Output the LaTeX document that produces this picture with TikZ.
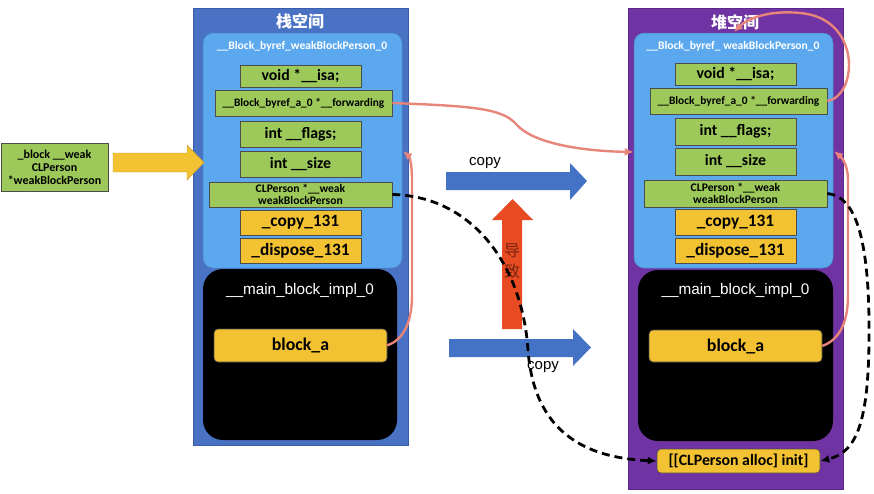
\documentclass[tikz,border=0pt]{standalone}
\usepackage{fontspec}
\setmainfont{Carlito}
\newfontfamily\cjk{Noto Sans CJK SC}
\newfontfamily\lib{Liberation Sans}
\usetikzlibrary{arrows.meta}
\definecolor{stackblue}{HTML}{4A72C4}
\definecolor{stackedge}{HTML}{3A5DA8}
\definecolor{heappurple}{HTML}{6F33A3}
\definecolor{heapedge}{HTML}{5A2888}
\definecolor{innerblue}{HTML}{5BA8EE}
\definecolor{boxgreen}{HTML}{9CC95A}
\definecolor{boxyellow}{HTML}{F2C233}
\definecolor{arrowblue}{HTML}{4472C4}
\definecolor{arrowred}{HTML}{E84B22}
\definecolor{textred}{HTML}{7A2510}
\definecolor{linkpink}{HTML}{E8857A}
\begin{document}
\begin{tikzpicture}[x=1pt,y=-1pt,
  panel/.style={rectangle, inner sep=0pt, line width=0.8pt},
  innerpanel/.style={rectangle, rounded corners=10pt, fill=innerblue, draw=innerblue!80!black, line width=0.5pt, inner sep=0pt},
  blackpanel/.style={rectangle, rounded corners=20pt, fill=black, inner sep=0pt},
  gbox/.style={rectangle, draw=black!70, line width=0.6pt, fill=boxgreen, inner sep=0pt, align=center, font=\bfseries},
  ybox/.style={rectangle, draw=black!70, line width=0.6pt, fill=boxyellow, inner sep=0pt, align=center, font=\bfseries},
  rybox/.style={ybox, rounded corners=4pt},
  pinkarrow/.style={draw=linkpink, line width=2.4pt, -{Latex[length=9pt,width=8pt]}},
  dasharrow/.style={draw=black, line width=2.8pt, dash pattern=on 8pt off 5pt, -{Latex[length=9pt,width=8pt]}},
]
\useasboundingbox (0,0) rectangle (874,493);

% ---------------- stack panel ----------------
\node[panel, fill=stackblue, draw=stackedge, minimum width=215pt, minimum height=437pt] (sout) at (300.5,226.5) {};
\node[text=white, font=\cjk\bfseries\fontsize{16}{16}\selectfont] (stitle) at (300,21) {栈空间};
\node[innerpanel, minimum width=199pt, minimum height=235pt] (sin) at (302.5,150.5) {};
\node[text=white, font=\bfseries\fontsize{11.6}{11.6}\selectfont] (sintitle) at (302,46) {\_\_Block\_byref\_weakBlockPerson\_0};
\node[gbox, minimum width=121pt, minimum height=22pt, font=\bfseries\fontsize{15.8}{16}\selectfont] (sisa) at (300.5,76) {void *\_\_isa;};
\node[gbox, minimum width=177pt, minimum height=26pt, font=\bfseries\fontsize{11.4}{12}\selectfont] (sfwd) at (303.5,103) {\_\_Block\_byref\_a\_0 *\_\_forwarding};
\node[gbox, minimum width=121pt, minimum height=26pt, font=\bfseries\fontsize{15.8}{16}\selectfont] (sflags) at (300.5,134) {int \_\_flags;};
\node[gbox, minimum width=121pt, minimum height=26pt, font=\bfseries\fontsize{15.8}{16}\selectfont] (ssize) at (300.5,164) {int \_\_size};
\node[gbox, minimum width=183pt, minimum height=25pt, font=\bfseries\fontsize{11.6}{12}\selectfont] (sclp) at (300.5,194.5) {CLPerson *\_\_weak\\weakBlockPerson};
\node[ybox, minimum width=121pt, minimum height=25pt, font=\bfseries\fontsize{17.3}{17}\selectfont] (scopy) at (300.5,222.5) {\_copy\_131};
\node[ybox, minimum width=121pt, minimum height=25pt, font=\bfseries\fontsize{17.3}{17}\selectfont] (sdisp) at (300.5,250.5) {\_dispose\_131};
\node[blackpanel, minimum width=194pt, minimum height=171pt] (sblk) at (300,354.5) {};
\node[text=white, font=\lib\fontsize{15.3}{15}\selectfont] (sblktitle) at (300,291) {\_\_main\_block\_impl\_0};
\node[rybox, minimum width=173pt, minimum height=33pt, font=\bfseries\fontsize{17.8}{17}\selectfont] (sba) at (300.5,345.5) {block\_a};

% ---------------- heap panel ----------------
\node[panel, fill=heappurple, draw=heapedge, minimum width=215pt, minimum height=481pt] (hout) at (735.5,248.5) {};
\node[text=white, font=\cjk\bfseries\fontsize{16}{16}\selectfont] (htitle) at (735,22) {堆空间};
\node[innerpanel, minimum width=199pt, minimum height=235pt] (hin) at (733.5,150.5) {};
\node[text=white, font=\bfseries\fontsize{11.6}{11.6}\selectfont] (hintitle) at (733,46) {\_\_Block\_byref\_ weakBlockPerson\_0};
\node[gbox, minimum width=121pt, minimum height=22pt, font=\bfseries\fontsize{15.8}{16}\selectfont] (hisa) at (735.5,74) {void *\_\_isa;};
\node[gbox, minimum width=177pt, minimum height=26pt, font=\bfseries\fontsize{11.4}{12}\selectfont] (hfwd) at (738.5,101) {\_\_Block\_byref\_a\_0 *\_\_forwarding};
\node[gbox, minimum width=121pt, minimum height=27pt, font=\bfseries\fontsize{15.8}{16}\selectfont] (hflags) at (735.5,131.5) {int \_\_flags;};
\node[gbox, minimum width=121pt, minimum height=27pt, font=\bfseries\fontsize{15.8}{16}\selectfont] (hsize) at (735.5,161.5) {int \_\_size};
\node[gbox, minimum width=183pt, minimum height=27pt, font=\bfseries\fontsize{11.6}{12}\selectfont] (hclp) at (735.5,193.5) {CLPerson *\_\_weak\\weakBlockPerson};
\node[ybox, minimum width=121pt, minimum height=26pt, font=\bfseries\fontsize{17.3}{17}\selectfont] (hcopy) at (735.5,222) {\_copy\_131};
\node[ybox, minimum width=121pt, minimum height=25pt, font=\bfseries\fontsize{17.3}{17}\selectfont] (hdisp) at (735.5,250.5) {\_dispose\_131};
\node[blackpanel, minimum width=195pt, minimum height=171pt] (hblk) at (735.5,355.5) {};
\node[text=white, font=\lib\fontsize{15.3}{15}\selectfont] (hblktitle) at (735.5,291) {\_\_main\_block\_impl\_0};
\node[rybox, minimum width=173pt, minimum height=32pt, font=\bfseries\fontsize{17.8}{17}\selectfont] (hba) at (735.5,346) {block\_a};
\node[rybox, minimum width=163pt, minimum height=24pt, font=\bfseries\fontsize{15.8}{15}\selectfont] (halloc) at (738.5,461) {[[CLPerson alloc] init]};

% ---------------- left source box and yellow arrow ----------------
\node[gbox, minimum width=107pt, minimum height=48pt, font=\bfseries\fontsize{12}{13}\selectfont] (src) at (54.5,167) {\_block \_\_weak\\CLPerson\\*weakBlockPerson};
\fill[boxyellow, draw=boxyellow!80!black, line width=0.4pt] (113,153) -- (187,153) -- (187,145) -- (204,162.5) -- (187,180) -- (187,172) -- (113,172) -- cycle;

% ---------------- copy arrows ----------------
\fill[arrowblue] (446,172) -- (570,172) -- (570,163) -- (587,181) -- (570,200) -- (570,190) -- (446,190) -- cycle;
\node[font=\lib\fontsize{15}{15}\selectfont] (copy1) at (485,163) {copy};
\fill[arrowblue] (449,339) -- (573,339) -- (573,329) -- (591,347.5) -- (573,366) -- (573,357) -- (449,357) -- cycle;

% ---------------- red up arrow ----------------
\fill[arrowred] (502,329) -- (502,220) -- (492,220) -- (512.5,199) -- (533,220) -- (522,220) -- (522,329) -- cycle;
\node[text=textred, font=\cjk\fontsize{16}{21}\selectfont, align=center] (cause) at (512,261) {导\\致};

% ---------------- pink links ----------------
\draw[pinkarrow] (sfwd.east) .. controls (470,106) and (502,108) .. (516,124) .. controls (532,143) and (580,151) .. (hin.west |- 0,152);
\draw[pinkarrow] (hfwd.east) .. controls (858,96) and (862,18) .. (800,13) .. controls (770,10) and (748,18) .. (734,32);
\draw[pinkarrow] (sba.east) .. controls (402,340) and (412,325) .. (412,295) -- (412,180) .. controls (412,163) and (409,156) .. (403,151);
\draw[pinkarrow] (hba.east) .. controls (838,340) and (848,325) .. (848,295) -- (848,180) .. controls (848,163) and (840,156) .. (834,151);

% ---------------- dashed links ----------------
\draw[dasharrow] (sclp.east) .. controls (470,196) and (522,262) .. (528,350) .. controls (534,432) and (585,458) .. (halloc.west);
\draw[dasharrow] (hclp.east) .. controls (856,196) and (868,240) .. (869,320) .. controls (870,420) and (858,452) .. (halloc.east);

% copy label drawn last (over dashed line)
\node[font=\lib\fontsize{15}{15}\selectfont] (copy2) at (543,367) {copy};
\end{tikzpicture}
\end{document}
